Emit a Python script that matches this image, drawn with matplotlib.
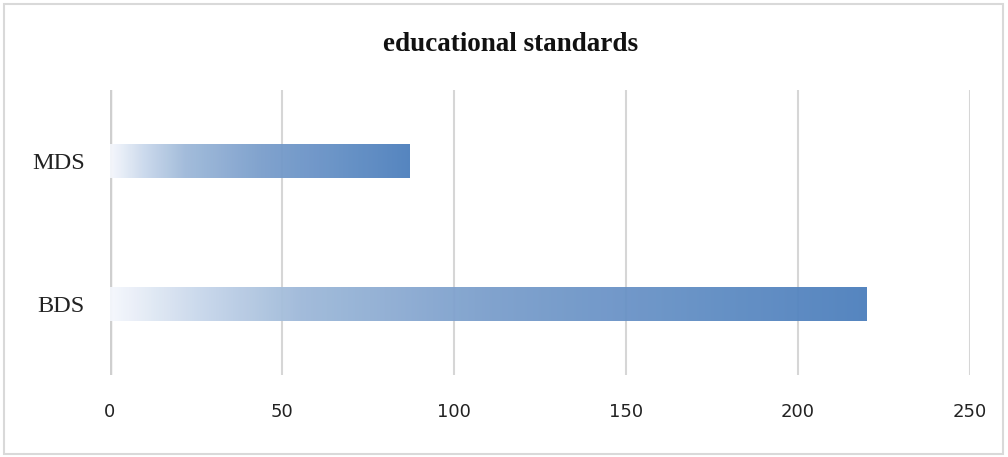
#!/usr/bin/env python3

import numpy as np
import matplotlib
matplotlib.use('agg')
import matplotlib.pyplot as plt
from matplotlib.colors import LinearSegmentedColormap
from matplotlib.patches import Rectangle

categories = ['BDS', 'MDS']
values = [220, 87]
x_ticks = [0, 50, 100, 150, 200, 250]
title = 'educational standards'

# white -> steel blue, a bit faster at the start like the Excel fill
grad = LinearSegmentedColormap.from_list('grad', [
    (0.0, (0.96, 0.97, 0.99)),
    (0.12, (0.78, 0.84, 0.92)),
    (0.25, (0.62, 0.725, 0.85)),
    (0.5, (0.48, 0.62, 0.80)),
    (1.0, (0.30, 0.50, 0.74)),
])

fig = plt.figure(figsize=(10.08, 4.57), dpi=100)
ax = fig.add_axes([0.109, 0.179, 0.853, 0.624])

ypos = np.arange(len(categories))
bars = ax.barh(ypos, values, height=0.24, color='none', edgecolor='none', zorder=2)

# fill each bar with a horizontal gradient clipped to the bar
for bar in bars:
    x0, y0 = bar.get_x(), bar.get_y()
    w, h = bar.get_width(), bar.get_height()
    img = ax.imshow(np.linspace(0, 1, 256).reshape(1, -1), cmap=grad, aspect='auto',
                    extent=[x0, x0 + w, y0, y0 + h], zorder=2, alpha=0.95,
                    interpolation='bilinear')
    img.set_clip_path(bar)

ax.set_xlim(0, 250)
ax.set_ylim(-0.5, len(categories) - 0.5)
ax.set_xticks(x_ticks)
ax.set_yticks(ypos)
ax.set_yticklabels(categories, fontfamily='Liberation Serif', fontsize=17.5)
ax.set_xticklabels([str(t) for t in x_ticks], fontfamily='DejaVu Sans', fontsize=13)
ax.tick_params(axis='both', length=0)
ax.tick_params(axis='x', pad=20, colors='#222222')
ax.tick_params(axis='y', pad=18, colors='#222222')

ax.grid(axis='x', color='#d6d6d6', linewidth=1.5, zorder=1)
ax.set_axisbelow(True)
ax.axvline(0, color='#cfcfcf', linewidth=2.5, zorder=1)
for side in ['top', 'right', 'bottom', 'left']:
    ax.spines[side].set_visible(False)

fig.text(0.507, 0.888, title, ha='center', va='baseline', fontfamily='Liberation Serif',
         fontweight='bold', fontsize=19.5, color='#111111')

# light chart border
fig.patches.append(Rectangle((0.004, 0.006), 0.991, 0.985, transform=fig.transFigure,
                             fill=False, edgecolor='#d9d9d9', linewidth=1.5))

fig.savefig('out.png', dpi=100)
